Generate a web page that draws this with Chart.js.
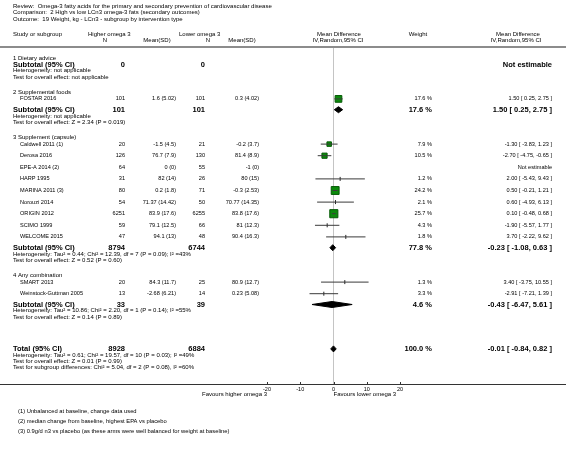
<!DOCTYPE html>
<html>
<head>
<meta charset="utf-8">
<script src="https://cdn.jsdelivr.net/npm/chart.js@4.4.1/dist/chart.umd.min.js"></script>
<style>
  html, body { margin: 0; padding: 0; background: #fff; }
  canvas { display: block; }
</style>
</head>
<body>
<canvas id="forest" width="566" height="453"></canvas>
<script>
// ---- data ----
const titleLines = [
  'Review:  Omega-3 fatty acids for the primary and secondary prevention of cardiovascular disease',
  'Comparison:  2 High vs low LCn3 omega-3 fats (secondary outcomes)',
  'Outcome:  19 Weight, kg - LCn3 - subgroup by intervention type'
];
const groupNames = ['1 Dietary advice', '2 Supplemental foods', '3 Supplement (capsule)', '4 Any combination'];

const studyNames = ['FOSTAR 2016', 'Caldwell 2011 (1)', 'Derosa 2016', 'EPE-A 2014 (2)', 'HARP 1995', 'MARINA 2011 (3)',
  'Norouzi 2014', 'ORIGIN 2012', 'SCIMO 1999', 'WELCOME 2015', 'SMART 2013', 'Weinstock-Guttman 2005'];
const studyGroup = [1, 2, 2, 2, 2, 2, 2, 2, 2, 2, 3, 3];
const nHigher = [101, 20, 126, 64, 31, 80, 54, 6251, 59, 47, 20, 13];
const meanHigher = ['1.6 (5.02)', '-1.5 (4.5)', '76.7 (7.9)', '0 (0)', '82 (14)', '0.2 (1.8)', '71.37 (14.42)',
  '83.9 (17.6)', '79.1 (12.5)', '94.1 (13)', '84.3 (11.7)', '-2.68 (6.21)'];
const nLower = [101, 21, 130, 55, 26, 71, 50, 6255, 66, 48, 25, 14];
const meanLower = ['0.3 (4.02)', '-0.2 (3.7)', '81.4 (8.9)', '-1 (0)', '80 (15)', '-0.3 (2.53)', '70.77 (14.35)',
  '83.8 (17.6)', '81 (12.3)', '90.4 (16.3)', '80.9 (12.7)', '0.23 (5.08)'];
const weights = [17.6, 7.9, 10.5, null, 1.2, 24.2, 2.1, 25.7, 4.3, 1.8, 1.3, 3.3];
const meanDiff = [1.50, -1.30, -2.70, null, 2.00, 0.50, 0.60, 0.10, -1.90, 3.70, 3.40, -2.91];
const ciLow = [0.25, -3.83, -4.75, null, -5.43, -0.21, -4.93, -0.48, -5.57, -2.22, -3.75, -7.21];
const ciHigh = [2.75, 1.23, -0.65, null, 9.43, 1.21, 6.13, 0.68, 1.77, 9.62, 10.55, 1.39];

const subNHigher = [0, 101, 8794, 33];
const subNLower = [0, 101, 6744, 39];
const subWeight = [null, 17.6, 77.8, 4.6];
const subMeanDiff = [null, 1.50, -0.23, -0.43];
const subLow = [null, 0.25, -1.08, -6.47];
const subHigh = [null, 2.75, 0.63, 5.61];
const subHeterogeneity = [
  'Heterogeneity: not applicable',
  'Heterogeneity: not applicable',
  'Heterogeneity: Tau\u00b2 = 0.44; Chi\u00b2 = 12.39, df = 7 (P = 0.09); I\u00b2 =43%',
  'Heterogeneity: Tau\u00b2 = 10.86; Chi\u00b2 = 2.20, df = 1 (P = 0.14); I\u00b2 =55%'
];
const subOverall = [
  'Test for overall effect: not applicable',
  'Test for overall effect: Z = 2.34 (P = 0.019)',
  'Test for overall effect: Z = 0.52 (P = 0.60)',
  'Test for overall effect: Z = 0.14 (P = 0.89)'
];

const totalN = [8928, 6884];
const totalEffect = [-0.01, -0.84, 0.82];
const totalNotes = [
  'Heterogeneity: Tau\u00b2 = 0.61; Chi\u00b2 = 19.57, df = 10 (P = 0.03); I\u00b2 =49%',
  'Test for overall effect: Z = 0.01 (P = 0.99)',
  'Test for subgroup differences: Chi\u00b2 = 5.04, df = 2 (P = 0.08), I\u00b2 =60%'
];
const footnotes = [
  '(1) Unbalanced at baseline, change data used',
  '(2) median change from baseline, highest EPA vs placebo',
  '(3) 0.9g/d n3 vs placebo (as these arms were well balanced for weight at baseline)'
];
const xTicks = [-20, -10, 0, 10, 20];
const favours = ['Favours higher omega 3', 'Favours lower omega 3'];

// ---- layout ----
const W = 566, H = 453;
const HEAD_RULE = 47, AXIS_Y = 384;
const FONT = '"Liberation Sans", Arial, sans-serif';
const col = { name: 13, study: 20, nHi: 125, meanHi: 176, nLo: 205, meanLo: 259, weight: 432, ci: 552 };

// walk the rows top to bottom, y measured down from the header rule
const rows = [];
let y = 11;
groupNames.forEach((g, gi) => {
  rows.push({ kind: 'group', y, gi });
  const members = studyNames.map((_, i) => i).filter(i => studyGroup[i] === gi);
  if (members.length) {
    y += 6.5;
    members.forEach((si, k) => { if (k) y += 11.6; rows.push({ kind: 'study', y, si }); });
    y += 10.8;
  } else {
    y += 6.5;
  }
  rows.push({ kind: 'sub', y, gi });
  y += 6.2; rows.push({ kind: 'note', y, text: subHeterogeneity[gi] });
  y += 6.2; rows.push({ kind: 'note', y, text: subOverall[gi] });
  y += gi < groupNames.length - 1 ? 15.5 : 32;
});
rows.push({ kind: 'total', y });
totalNotes.forEach(t => { y += 6.2; rows.push({ kind: 'note', y, text: t }); });

const fmt = v => v.toFixed(2);
const ciText = (m, l, h) => `${fmt(m)} [ ${fmt(l)}, ${fmt(h)} ]`;

// ---- datasets ----
const studyRows = rows.filter(r => r.kind === 'study' && meanDiff[r.si] !== null);
const datasets = [];
studyRows.forEach(r => {
  datasets.push({
    type: 'line', data: [{ x: ciLow[r.si], y: r.y }, { x: ciHigh[r.si], y: r.y }],
    borderColor: '#3a3a3a', borderWidth: 1, pointRadius: 0, fill: false
  });
});
datasets.push({
  type: 'scatter',
  data: studyRows.map(r => ({ x: meanDiff[r.si], y: r.y })),
  pointStyle: studyRows.map(r => weights[r.si] >= 5 ? 'rect' : 'line'),
  pointRotation: studyRows.map(r => weights[r.si] >= 5 ? 0 : 90),
  pointRadius: studyRows.map(r => weights[r.si] >= 5 ? 1.6 * Math.sqrt(weights[r.si]) / Math.SQRT2 : 2),
  backgroundColor: '#0b8a0b',
  borderColor: studyRows.map(r => weights[r.si] >= 5 ? '#055a05' : '#222'),
  borderWidth: 1
});
const diamond = (m, l, h, yy) => ({
  type: 'line',
  data: [{ x: l, y: yy }, { x: m, y: yy - 3 }, { x: h, y: yy }, { x: m, y: yy + 3 }, { x: l, y: yy }],
  borderColor: '#000', backgroundColor: '#000', borderWidth: 1, pointRadius: 0, fill: 'shape'
});
rows.filter(r => r.kind === 'sub' && subMeanDiff[r.gi] !== null).forEach(r => {
  datasets.push(diamond(subMeanDiff[r.gi], subLow[r.gi], subHigh[r.gi], r.y));
});
const totalRow = rows.find(r => r.kind === 'total');
datasets.push(diamond(totalEffect[0], totalEffect[1], totalEffect[2], totalRow.y));

// ---- text, rules and ticks ----
const textPlugin = {
  id: 'forestText',
  afterDraw(chart) {
    const ctx = chart.ctx;
    const ys = chart.scales.y, xs = chart.scales.x;
    const put = (txt, x, yy, size, align, bold) => {
      ctx.font = `${bold ? 'bold ' : ''}${size}px ${FONT}`;
      ctx.textAlign = align || 'left';
      ctx.fillText(String(txt), x, yy);
    };
    ctx.save();
    ctx.fillStyle = '#000';
    ctx.textBaseline = 'middle';

    titleLines.forEach((t, i) => put(t, 13, 6 + i * 6.5, 6));
    put('Study or subgroup', 13, 34, 6);
    put('Higher omega 3', 88, 34, 6);
    put('N', 105, 40.5, 6, 'center');
    put('Mean(SD)', 157, 40.5, 6, 'center');
    put('Lower omega 3', 179, 34, 6);
    put('N', 208, 40.5, 6, 'center');
    put('Mean(SD)', 242, 40.5, 6, 'center');
    put('Mean Difference', 339, 34, 6, 'center');
    put('IV,Random,95% CI', 338, 40.5, 6, 'center');
    put('Weight', 418, 34, 6, 'center');
    put('Mean Difference', 518, 34, 6, 'center');
    put('IV,Random,95% CI', 516, 40.5, 6, 'center');

    rows.forEach(r => {
      const py = ys.getPixelForValue(r.y);
      if (r.kind === 'group') put(groupNames[r.gi], col.name, py, 6);
      else if (r.kind === 'note') put(r.text, col.name, py, 6);
      else if (r.kind === 'study') {
        const i = r.si;
        put(studyNames[i], col.study, py, 5.6);
        put(nHigher[i], col.nHi, py, 5.6, 'right');
        put(meanHigher[i], col.meanHi, py, 5.6, 'right');
        put(nLower[i], col.nLo, py, 5.6, 'right');
        put(meanLower[i], col.meanLo, py, 5.6, 'right');
        if (meanDiff[i] === null) put('Not estimable', col.ci, py, 5.6, 'right');
        else {
          put(weights[i].toFixed(1) + ' %', col.weight, py, 5.6, 'right');
          put(ciText(meanDiff[i], ciLow[i], ciHigh[i]), col.ci, py, 5.6, 'right');
        }
      } else if (r.kind === 'sub' || r.kind === 'total') {
        const g = r.gi;
        put(r.kind === 'sub' ? 'Subtotal (95% CI)' : 'Total (95% CI)', col.name, py, 7.5, 'left', true);
        put(r.kind === 'sub' ? subNHigher[g] : totalN[0], col.nHi, py, 7.5, 'right', true);
        put(r.kind === 'sub' ? subNLower[g] : totalN[1], col.nLo, py, 7.5, 'right', true);
        if (r.kind === 'sub' && subMeanDiff[g] === null) put('Not estimable', col.ci, py, 7.5, 'right', true);
        else if (r.kind === 'sub') {
          put(subWeight[g].toFixed(1) + ' %', col.weight, py, 7.5, 'right', true);
          put(ciText(subMeanDiff[g], subLow[g], subHigh[g]), col.ci, py, 7.5, 'right', true);
        } else {
          put('100.0 %', col.weight, py, 7.5, 'right', true);
          put(ciText(totalEffect[0], totalEffect[1], totalEffect[2]), col.ci, py, 7.5, 'right', true);
        }
      }
    });

    // header rule and full-width axis line
    ctx.fillStyle = '#8c8c8c';
    ctx.fillRect(0, HEAD_RULE - 1, W, 2);
    ctx.fillStyle = '#333';
    ctx.fillRect(0, AXIS_Y, W, 1);
    xTicks.forEach(v => {
      const px = Math.round(xs.getPixelForValue(v));
      ctx.fillRect(px, AXIS_Y - 2, 1, 2);
    });
    ctx.fillStyle = '#000';
    put(favours[0], xs.getPixelForValue(-20), AXIS_Y + 10, 6, 'right');
    put(favours[1], xs.getPixelForValue(0), AXIS_Y + 10, 6, 'left');
    footnotes.forEach((t, i) => put(t, 18, 411 + i * 10, 5.8));
    ctx.restore();
  }
};

new Chart(document.getElementById('forest'), {
  type: 'scatter',
  data: { datasets },
  options: {
    responsive: false,
    animation: false,
    layout: { padding: { left: 267, right: 166, top: HEAD_RULE, bottom: 0 } },
    plugins: { legend: { display: false }, tooltip: { enabled: false } },
    scales: {
      x: {
        type: 'linear', min: -20, max: 20,
        afterBuildTicks: s => { s.ticks = xTicks.map(v => ({ value: v })); },
        afterFit: s => { s.height = H - AXIS_Y; },
        ticks: { font: { size: 5.5, family: FONT }, color: '#000', padding: 2 },
        grid: {
          drawTicks: false,
          color: c => c.tick && c.tick.value === 0 ? '#c4c4c4' : 'rgba(0,0,0,0)'
        },
        border: { display: false }
      },
      y: {
        type: 'linear', display: false, reverse: true,
        min: 0, max: AXIS_Y - HEAD_RULE
      }
    }
  },
  plugins: [textPlugin]
});
</script>
</body>
</html>
